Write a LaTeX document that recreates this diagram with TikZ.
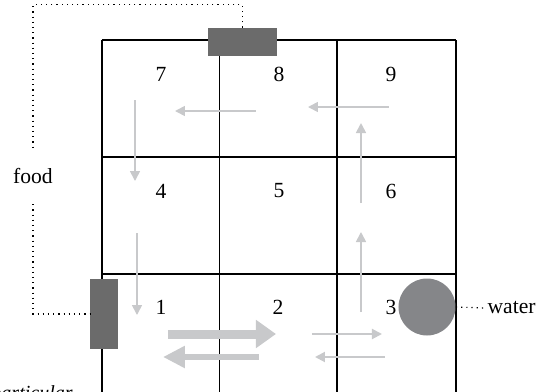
\documentclass[tikz,border=0pt]{standalone}
\usepackage{fontspec}
\setmainfont{Liberation Serif}
\usetikzlibrary{arrows.meta}

\definecolor{flujo}{HTML}{C8C9CB}
\definecolor{comedero}{HTML}{6B6B6B}
\definecolor{charca}{HTML}{858689}

\begin{document}
\begin{tikzpicture}[x=0.5pt, y=-0.5pt, font=\fontsize{10.8}{13}\selectfont,
    rejilla/.style={line width=0.65pt},
    caja/.style={rectangle, fill=comedero, inner sep=0pt},
    flecha/.style={draw=flujo, line width=0.85pt, -{Triangle[length=5pt, width=5pt]}},
    gruesa/.style={draw=flujo, line width=#1}]

    \clip (0,0) rectangle (538,392);

    % rejilla de 3 x 3
    \foreach \x in {102,219.5,337,456}
        \draw[rejilla] (\x,40) -- (\x,400);
    \foreach \y in {40,157,274}
        \draw[rejilla] (102,\y) -- (456,\y);

    % numeros de las celdas
    \foreach \n/\x/\y in {7/161/74, 8/279/74, 9/391/74,
                          4/161/191, 5/279/191, 6/391/191,
                          1/161/307, 2/278/307, 3/391/307}
        \node (n\n) at (\x,\y) {\n};

    % recorrido
    \draw[flecha] (135,100) -- (135,181);
    \draw[flecha] (137,233) -- (137,315);
    \draw[flecha] (256,111) -- (175,111);
    \draw[flecha] (389,107) -- (308,107);
    \draw[flecha] (361,203) -- (361,123);
    \draw[flecha] (361,312) -- (361,232);
    \draw[gruesa=4.5pt, -{Triangle[length=10pt, width=13.5pt]}] (168,334) -- (276,334);
    \draw[gruesa=3pt, -{Triangle[length=11pt, width=10.5pt]}] (259,357) -- (163,357);
    \draw[flecha, line width=1pt] (312,334) -- (382,334);
    \draw[flecha, line width=1pt] (385,357) -- (315,357);

    % comederos y agua
    \node[caja, minimum width=34.5pt, minimum height=14pt] (ftop) at (242.5,42) {};
    \node[caja, minimum width=14pt, minimum height=35pt] (fleft) at (104,314) {};
    \node[circle, fill=charca, minimum size=28.5pt, inner sep=0pt] (pond) at (427,307) {};

    \node[inner xsep=0pt, inner ysep=10pt] (food) at (33,176) {food};
    \node[anchor=east, inner xsep=1pt, inner ysep=0pt] (water) at (538,308) {water};
    \node[anchor=base east, inner sep=0pt, font=\itshape] (part) at (73,399) {particular};

    \draw[dotted, line width=0.6pt] (ftop.north) -- ++(0,-23) -| (food.north);
    \draw[dotted, line width=0.6pt] (food.south) |- (fleft.west);
    \draw[dotted, line width=0.6pt] (pond.east) -- (water.west);

\end{tikzpicture}
\end{document}
